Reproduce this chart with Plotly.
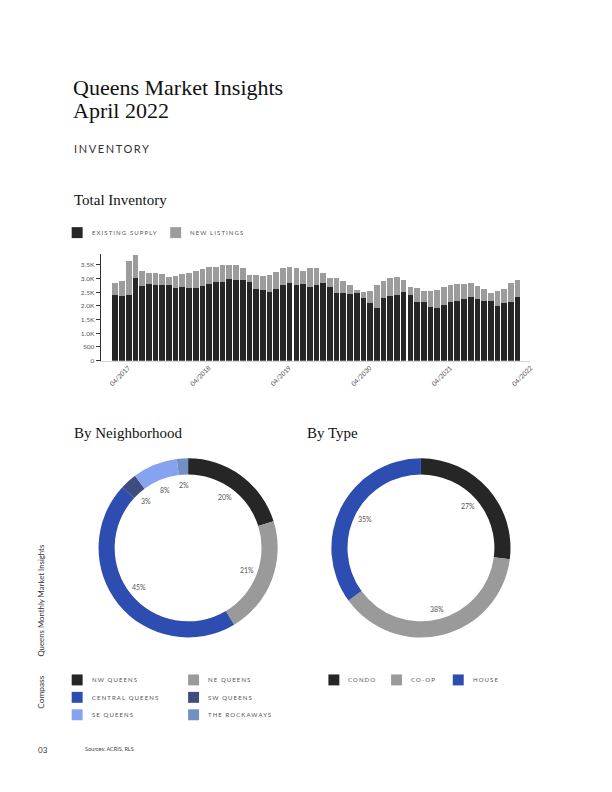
import math
import plotly.graph_objects as go

# ---------------- data ----------------
months = [f"{(3 + i) % 12 + 1:02d}/{2017 + (3 + i) // 12}" for i in range(61)]
existing_supply = [2410, 2380, 2410, 3020, 2740, 2790, 2760, 2780, 2760, 2660, 2710, 2670,
                   2670, 2740, 2790, 2890, 2890, 3000, 2940, 2960, 2870, 2630, 2600, 2520,
                   2630, 2780, 2830, 2780, 2820, 2710, 2780, 2840, 2710, 2490, 2460, 2440,
                   2490, 2280, 2100, 1940, 2300, 2350, 2400, 2500, 2410, 2150, 2130, 1960,
                   1940, 2020, 2130, 2200, 2270, 2320, 2270, 2200, 2170, 2010, 2110, 2160,
                   2340]
new_listings = [440, 550, 1220, 860, 540, 420, 450, 390, 290, 440, 460, 540,
                600, 610, 640, 520, 620, 510, 570, 420, 280, 500, 500, 630,
                630, 620, 610, 620, 470, 690, 600, 380, 310, 530, 440, 330,
                100, 240, 440, 830, 630, 660, 650, 450, 300, 520, 420, 600,
                630, 660, 640, 620, 550, 520, 460, 430, 320, 530, 520, 680,
                620]
x_tick_labels = ["04/2017", "04/2018", "04/2019", "04/2020", "04/2021", "04/2022"]
y_tick_values = [0, 500, 1000, 1500, 2000, 2500, 3000, 3500]
y_tick_labels = ["0", "500", "1.0K", "1.5K", "2.0K", "2.5K", "3.0K", "3.5K"]

neighborhoods = ["NW Queens", "NE Queens", "Central Queens", "SW Queens", "SE Queens", "The Rockaways"]
neighborhood_share = [20, 21, 45, 3, 8, 2]
neighborhood_colors = ["#262626", "#9a9a9a", "#2d4db0", "#3e4c7e", "#86a3f2", "#7390c6"]

types = ["Condo", "Co-op", "House"]
type_share = [27, 38, 35]
type_colors = ["#262626", "#9a9a9a", "#2d4db0"]

# ---------------- helpers ----------------
# The page body has a default margin, so the figure is offset on the page.
OFF_X, OFF_Y = 8, 6
W, H = 612 - 8, 792 - 8
def px(x):
    return (x - OFF_X) / W
def py(y):
    return 1 - (y - OFF_Y) / H

SERIF = "Liberation Serif"
SANS = "Lato"

fig = go.Figure()

# ---------------- bar chart ----------------
fig.add_trace(go.Bar(x=months, y=existing_supply, name="Existing Supply",
                     marker=dict(color="#262626", line=dict(width=0)), showlegend=False))
fig.add_trace(go.Bar(x=months, y=new_listings, name="New Listings",
                     marker=dict(color="#9c9c9c", line=dict(width=0)), showlegend=False))

fig.update_layout(
    barmode="stack", bargap=0.15,
    xaxis=dict(domain=[px(101), px(533)], anchor="y", type="category",
               range=[-2.2, 61.9], tickmode="array", tickvals=x_tick_labels,
               ticktext=x_tick_labels, tickangle=-45, ticklabelshift=13,
               tickfont=dict(family=SANS, size=6.5, color="#555"),
               showline=True, linecolor="#d6d6d6", linewidth=1, ticks="",
               showgrid=False, zeroline=False, fixedrange=True),
    yaxis=dict(domain=[py(360), py(253)], anchor="x", range=[0, 3900],
               tickmode="array", tickvals=y_tick_values, ticktext=y_tick_labels,
               tickfont=dict(family=SANS, size=6.5, color="#555"),
               showline=True, linecolor="#333", linewidth=1,
               ticks="outside", ticklen=4, tickcolor="#333", tickwidth=1,
               showgrid=False, zeroline=False, fixedrange=True),
)

# ---------------- donuts ----------------
pie_specs = [
    (neighborhoods, neighborhood_share, neighborhood_colors, 189, 548),
    (types, type_share, type_colors, 423, 548),
]
R_OUT = 90
for labels, vals, cols, cx, cy in pie_specs:
    fig.add_trace(go.Pie(labels=labels, values=vals, sort=False, direction="clockwise",
                         rotation=0, hole=0.82, textinfo="none", hoverinfo="label+percent",
                         marker=dict(colors=cols, line=dict(width=0)), showlegend=False,
                         domain=dict(x=[px(cx - R_OUT), px(cx + R_OUT)],
                                     y=[py(cy + R_OUT), py(cy - R_OUT)])))

annotations = []
shapes = []
R_LABEL = 63
for labels, vals, cols, cx, cy in pie_specs:
    total = sum(vals)
    cum = 0
    for v in vals:
        theta = 2 * math.pi * (cum + v / 2) / total
        lx = cx + R_LABEL * math.sin(theta)
        ly = cy - R_LABEL * math.cos(theta)
        annotations.append(dict(x=px(lx), y=py(ly), xref="paper", yref="paper",
                                text=f"{v}%", showarrow=False, xanchor="center", yanchor="middle",
                                font=dict(family=SANS, size=7, color="#555")))
        cum += v

# ---------------- texts ----------------
def text(x, y, s, size, family=SANS, color="#222", xanchor="left", textangle=0, yanchor="middle"):
    annotations.append(dict(x=px(x), y=py(y), xref="paper", yref="paper", text=s,
                            showarrow=False, xanchor=xanchor, yanchor=yanchor, textangle=textangle,
                            font=dict(family=family, size=size, color=color)))

text(71, 86, "Queens Market Insights", 22, SERIF, "#111")
text(71, 109, "April 2022", 22, SERIF, "#111")
text(72, 147, '<span style="letter-spacing:1.6px">INVENTORY</span>', 11, SANS, "#333")
text(72, 199, "Total Inventory", 15, SERIF, "#111")
text(72, 433, "By Neighborhood", 15, SERIF, "#111")
text(306, 433, "By Type", 15, SERIF, "#111")

def legend_item(x, y, color, label):
    shapes.append(dict(type="rect", xref="paper", yref="paper",
                       x0=px(x), x1=px(x + 11), y0=py(y + 5.5), y1=py(y - 5.5),
                       fillcolor=color, line=dict(width=0)))
    text(x + 18, y, f'<span style="letter-spacing:1.1px">{label.upper()}</span>', 6, SANS, "#555")

legend_item(72, 231.5, "#262626", "Existing Supply")
legend_item(171, 231.5, "#9c9c9c", "New Listings")

nb_pos = [(72, 680.5), (189, 680.5), (72, 698), (189, 698), (72, 715.5), (189, 715.5)]
for name, col, (lx, ly) in zip(neighborhoods, neighborhood_colors, nb_pos):
    legend_item(lx, ly, col, name)

for name, col, lx in zip(types, type_colors, [330, 393, 455]):
    legend_item(lx, 680.5, col, name)

text(41.5, 600.5, "Queens Monthly Market Insights", 7.8, SANS, "#333", xanchor="center", textangle=-90)
text(41.5, 693, "Compass", 8.3, SANS, "#333", xanchor="center", textangle=-90)
text(36, 750.5, "03", 8, SANS, "#333")
text(83, 750, "Sources: ACRIS, RLS", 5.5, SANS, "#444")

fig.update_layout(
    width=W, height=H, margin=dict(l=0, r=0, t=0, b=0),
    paper_bgcolor="white", plot_bgcolor="white",
    annotations=annotations, shapes=shapes, showlegend=False,
)

fig.write_html("out.html")
